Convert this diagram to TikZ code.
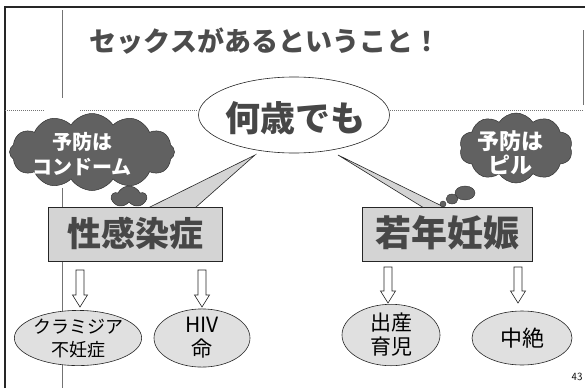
\documentclass[tikz,border=0pt]{standalone}
\usepackage{fontspec}
\newfontfamily\jp{Noto Sans CJK JP}
\usetikzlibrary{shapes.symbols,shapes.geometric,calc}
\newcommand\hollowdown[3]{% x, ytop, ybot
  \draw[arrowline] (#1-4,#2) -- (#1+4,#2) -- (#1+4,#3-12) -- (#1+7.5,#3-12) -- (#1,#3)
    -- (#1-7.5,#3-12) -- (#1-4,#3-12) -- cycle;}
\begin{document}
\begin{tikzpicture}[x=1pt,y=-1pt,
  frame/.style={black!85, line width=1.6pt},
  thin/.style={black!55, line width=0.5pt},
  dotline/.style={black!55, line width=0.6pt, dash pattern=on 1pt off 1pt},
  bigbox/.style={draw=black!85, fill=black!17, line width=0.6pt, minimum height=54, inner sep=0},
  bigtxt/.style={font=\jp\bfseries\fontsize{34}{34}\selectfont, text=black!72},
  darkcloud/.style={cloud, draw=black!80, fill=black!62, inner sep=0, line width=0.5pt},
  cloudtxt/.style={font=\jp\bfseries\fontsize{20}{25}\selectfont, text=white, align=center},
  result/.style={ellipse, draw=black!85, fill=black!12, line width=0.6pt, inner sep=0, align=center, font=\jp\fontsize{19}{23}\selectfont},
  arrowline/.style={draw=black!85, fill=white, line width=0.6pt, line join=miter},
  wedge/.style={draw=black!85, fill=black!17, line width=0.6pt, line join=miter}
]
\useasboundingbox (0,0) rectangle (585,388);
\fill[white] (0,0) rectangle (585,388);

% frame lines
\draw[frame] (5,388) -- (5,7) -- (585,7);
\draw[thin] (62,10) -- (62,98);
\draw[thin] (583,30) -- (583,105);
\draw[dotline] (5,110) -- (45,110);
\draw[dotline] (80,110) -- (198,110);
\draw[dotline] (390,110) -- (583,110);
\draw[thin] (62,188) -- (62,388);

% title
\node[font=\jp\bfseries\fontsize{27}{27}\selectfont, text=black!70] (title) at (265,41) {セックスがあるということ！};

% callout wedges
\coordinate (ltip) at (255,155);
\coordinate (lb1) at (148,208);
\coordinate (lb2) at (195,208);
\coordinate (rtip) at (338,155);
\coordinate (rb1) at (424,208);
\coordinate (rb2) at (446,208);
\filldraw[wedge] (lb1) -- (ltip) -- (lb2);
\filldraw[wedge] (rb1) -- (rtip) -- (rb2);

% boxes
\node[bigbox, minimum width=174] (sti) at (135,234) {};
\node[bigtxt] (stitxt) at (135,233) {性感染症};
\node[bigbox, minimum width=170] (preg) at (447,234) {};
\node[bigtxt, font=\jp\bfseries\fontsize{36}{36}\selectfont] (pregtxt) at (447,233) {若年妊娠};
% open the box tops under the wedges
\fill[black!17] ($(lb1)+(0.8,-0.5)$) rectangle ($(lb2)+(-0.8,1.5)$);
\fill[black!17] ($(rb1)+(0.8,-0.5)$) rectangle ($(rb2)+(-0.8,1.5)$);

% central ellipse
\node[ellipse, draw=black!85, fill=white, line width=0.6pt, minimum width=191, minimum height=76, inner sep=0] (age) at (294,115) {};
\node[font=\jp\bfseries\fontsize{35}{35}\selectfont, text=black!72] (agetxt) at (295,118) {何歳でも};

% clouds
\node[darkcloud, cloud puffs=12, cloud puff arc=115, minimum width=165, minimum height=77] (lcloud) at (92,152) {};
\node[cloudtxt] (lcloudtxt) at (82,154) {予防は\\コンドーム};
\node[darkcloud, cloud puffs=5, cloud puff arc=130, minimum width=34, minimum height=22] (lpuff) at (129,197) {};

\node[darkcloud, cloud puffs=10, cloud puff arc=115, minimum width=113, minimum height=70] (rcloud) at (516,148) {};
\node[cloudtxt, font=\jp\bfseries\fontsize{22}{24}\selectfont] (rcloudtxt) at (510,153) {予防は\\ピル};
\node[ellipse, draw=black!80, fill=black!62, minimum width=20, minimum height=14, inner sep=0] (rb1b) at (465,193) {};
\node[ellipse, draw=black!80, fill=black!62, minimum width=12, minimum height=10, inner sep=0] (rb2b) at (452,199) {};
\node[ellipse, draw=black!80, fill=black!62, minimum width=6, minimum height=6, inner sep=0] (rb3b) at (443,204) {};

% hollow arrows
\hollowdown{80}{270}{307}
\hollowdown{202}{270}{307}
\hollowdown{388}{267}{303}
\hollowdown{518}{267}{303}

% results
\node[result, minimum width=112, minimum height=54, font=\jp\fontsize{18}{23}\selectfont] (chl) at (78,338) {クラミジア\\不妊症};
\node[result, minimum width=96, minimum height=56, font=\jp\fontsize{21}{24}\selectfont] (hiv) at (202,338) {HIV\\命};
\node[result, minimum width=98, minimum height=60, font=\jp\fontsize{21}{24}\selectfont] (birth) at (391,335) {出産\\育児};
\node[result, minimum width=100, minimum height=54, font=\jp\fontsize{22}{24}\selectfont] (abort) at (522,338) {中絶};

\node[font=\fontsize{11}{11}\sffamily] (page) at (577,377) {43};
\end{tikzpicture}
\end{document}
